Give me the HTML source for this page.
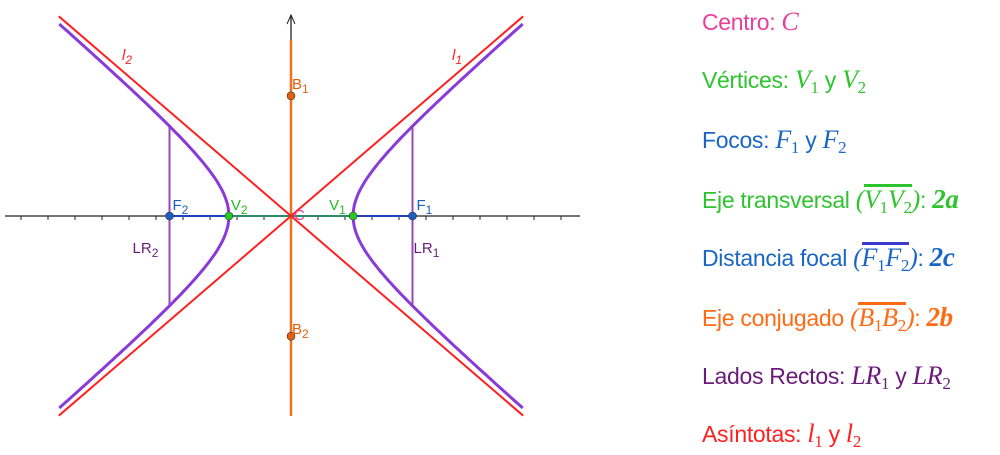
<!DOCTYPE html>
<html><head><meta charset="utf-8"><style>
body{margin:0;background:#fff;width:1000px;height:455px;overflow:hidden;position:relative;font-family:"Liberation Sans Narrow","Liberation Sans",sans-serif}
.row{position:absolute;left:702px;font-size:23px;white-space:nowrap;transform-origin:left center;letter-spacing:-0.3px;line-height:28px}
.m{font-family:"Liberation Serif",serif;font-style:italic;font-size:26px}
.b{font-family:"Liberation Serif",serif;font-weight:bold;font-style:italic;font-size:27px}
sub{font-size:17px;font-style:normal;vertical-align:-5px;line-height:0}
.ov{display:inline-block;border-top:3px solid currentColor;line-height:22px;padding-top:2px}
</style></head><body>
<svg id="chart" width="600" height="455" style="position:absolute;left:0;top:0"></svg>
<div class="row" style="top:8px;color:#e8409a">Centro: <span class="m">C</span></div>
<div class="row" style="top:66px;color:#2ec42e">Vértices: <span class="m">V<sub>1</sub></span> y <span class="m">V<sub>2</sub></span></div>
<div class="row" style="top:126px;color:#1a66c4">Focos: <span class="m">F<sub>1</sub></span> y <span class="m">F<sub>2</sub></span></div>
<div class="row" style="top:184px;color:#2ec42e">Eje transversal <span class="m">(<span class="ov">V<sub>1</sub>V<sub>2</sub></span>)</span>: <span class="b">2a</span></div>
<div class="row" style="top:242px;color:#1a66c4">Distancia focal <span class="m">(<span class="ov" style="border-color:#3a3ad0">F<sub>1</sub>F<sub>2</sub></span>)</span>: <span class="b">2c</span></div>
<div class="row" style="top:302px;color:#ff6a13">Eje conjugado <span class="m">(<span class="ov">B<sub>1</sub>B<sub>2</sub></span>)</span>: <span class="b">2b</span></div>
<div class="row" style="top:362px;color:#6a1b7a">Lados Rectos: <span class="m">LR<sub>1</sub></span> y <span class="m">LR<sub>2</sub></span></div>
<div class="row" style="top:420px;color:#ff2020">Asíntotas: <span class="m">l<sub>1</sub></span> y <span class="m">l<sub>2</sub></span></div>
<script>
const semiAxisA=[2.3];
const focalC=[4.5];
const conjB=[4.45];
const asymSlope=[0.86];
const xRange=[-10.6,10.6];
const U=27, CX=291, CY=216;
const sx=v=>CX+v*U, sy=v=>CY-v*U;
const svg=document.getElementById('chart');
const NS='http://www.w3.org/2000/svg';
function mk(t,at){const e=document.createElementNS(NS,t);for(const k in at)e.setAttribute(k,at[k]);svg.appendChild(e);return e;}
const a=semiAxisA[0],c=focalC[0],bb=conjB[0],m=asymSlope[0],hb=a*m;
let e=mk('line',{x1:5,y1:CY,x2:580,y2:CY,stroke:'#222','stroke-width':1.3});

for(let i=Math.ceil(xRange[0]);i<=Math.floor(xRange[1]);i++){let t=mk('line',{x1:sx(i),y1:CY,x2:sx(i),y2:CY+4,stroke:'#222'});
}
e=mk('line',{x1:CX,y1:15,x2:CX,y2:416,stroke:'#222','stroke-width':1.3});

e=mk('path',{d:`M${CX-4} 24 L${CX} 15 L${CX+4} 24`,fill:'none',stroke:'#222'});

e=mk('line',{x1:CX,y1:40,x2:CX,y2:416,stroke:'#f07020','stroke-width':2.5});

e=mk('line',{x1:sx(-c),y1:CY,x2:sx(c),y2:CY,stroke:'#2040c0','stroke-width':2});

e=mk('line',{x1:sx(-a),y1:CY,x2:sx(a),y2:CY,stroke:'#2a8a6a','stroke-width':2});

const lr=hb*Math.sqrt((c/a)**2-1);
[[c,'latus-rectum-1'],[-c,'latus-rectum-2']].forEach(([x,n])=>{let l=mk('line',{x1:sx(x),y1:sy(lr),x2:sx(x),y2:sy(-lr),stroke:'#9a4ab8','stroke-width':2});
});
const xe=8.65;
[1,-1].forEach(s=>{let d='';for(let i=0;i<=160;i++){const y=-7.2+14.4*i/160;const x=s*a*Math.sqrt(1+(y/hb)**2);if(Math.abs(x)>xe)continue;d+=(d?'L':'M')+sx(x).toFixed(1)+' '+sy(y).toFixed(1);}
let p=mk('path',{d,fill:'none',stroke:'#8a3ad8','stroke-width':3});
});
[[m,'asymptote-l1'],[-m,'asymptote-l2']].forEach(([k,n])=>{let l=mk('line',{x1:sx(-8.6),y1:sy(-8.6*k),x2:sx(8.6),y2:sy(8.6*k),stroke:'#ff2020','stroke-width':2});
});
const pts=[[c,0,'#1a5ec4','focus-f1'],[-c,0,'#1a5ec4','focus-f2'],[a,0,'#22cc22','vertex-v1'],[-a,0,'#22cc22','vertex-v2'],[0,bb,'#e06010','point-b1'],[0,-bb,'#e06010','point-b2']];
pts.forEach(([x,y,col,n])=>{let p=mk('circle',{cx:sx(x),cy:sy(y),r:4,fill:col,stroke:'#333','stroke-width':0.6});
});
function lab(x,y,txt,sub,col,n,it){let t=mk('text',{x,y,fill:col,'font-size':15,'font-family':'"Liberation Sans",sans-serif','font-style':it?'italic':'normal'});
t.textContent=txt;if(sub){let s=document.createElementNS(NS,'tspan');s.setAttribute('font-size',12);s.setAttribute('dy',4);s.textContent=sub;t.appendChild(s);}
}
lab(sx(c)+4,210,'F','1','#1a5ec4','label-f1');lab(sx(-c)+3,210,'F','2','#1a5ec4','label-f2');
lab(sx(a)-24,210,'V','1','#22bb22','label-v1');lab(sx(-a)+2,210,'V','2','#22bb22','label-v2');
lab(CX+1,89,'B','1','#e06010','label-b1');lab(CX+1,334,'B','2','#e06010','label-b2');
lab(CX+3,220,'C','','#e8409a','label-c');
lab(sx(c)+1,253,'LR','1','#6a1b7a','label-lr1');lab(sx(-c)-37,253,'LR','2','#6a1b7a','label-lr2');
lab(452,60,'l','1','#ff2020','label-l1',true);lab(122,60,'l','2','#ff2020','label-l2',true);
</script>
</body></html>
